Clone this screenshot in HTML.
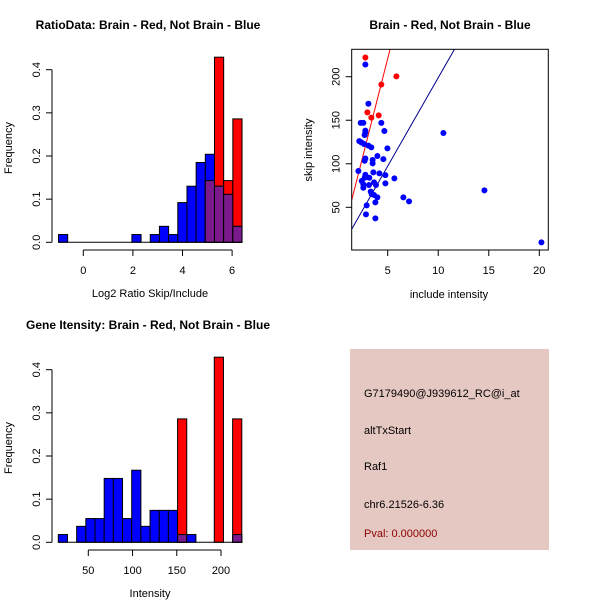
<!DOCTYPE html>
<html><head><meta charset="utf-8"><style>
html,body{margin:0;padding:0;background:#fff}
svg{display:block;font-family:"Liberation Sans",Arial,sans-serif}
</style></head><body>
<svg id="c" width="600" height="600" viewBox="0 0 600 600" xmlns="http://www.w3.org/2000/svg">
<rect x="350" y="349" width="199" height="201" fill="#e6c8c2"/>
<text x="364" y="397" font-size="11" fill="#000">G7179490@J939612_RC@i_at</text>
<text x="364" y="434" font-size="11" fill="#000">altTxStart</text>
<text x="364" y="470" font-size="11" fill="#000">Raf1</text>
<text x="364" y="508" font-size="11" fill="#000">chr6.21526-6.36</text>
<text x="364" y="537" font-size="11" fill="#8b0000">Pval: 0.000000</text>
</svg>
<script>
// ---- Data: ratio histogram ----
const ratioBreakStart = -1.0;
const ratioBinWidth = 0.37;
const ratioBlue = [0.018,0,0,0,0,0,0,0,0.018,0,0.018,0.037,0.018,0.092,0.13,0.185,0.204,0.13,0.111,0.037];
const ratioRed  = [0,0,0,0,0,0,0,0,0,0,0,0,0,0,0,0,0.143,0.429,0.143,0.286];
const ratioXTicks = [0,2,4,6];
const freqTicks = [0.0,0.1,0.2,0.3,0.4];
// ---- Data: intensity histogram ----
const intBreakStart = 16.1;
const intBinWidth = 10.37;
const intBlue = [0.018,0,0.037,0.055,0.055,0.148,0.148,0.055,0.167,0.037,0.074,0.074,0.074,0.018,0.018,0,0,0,0,0.018];
const intRed  = [0,0,0,0,0,0,0,0,0,0,0,0,0,0.286,0,0,0,0.429,0,0.286];
const intXTicks = [50,100,150,200];
// ---- Data: scatter ----
const redX = [2.79,5.86,4.37,2.99,3.38,4.11];
const redY = [222,200.4,191,159,153,155.6];
const blueX = [2.79,3.09,2.33,2.59,4.37,2.79,2.79,2.72,4.67,10.51,2.19,2.39,2.66,3.09,3.38,4.97,3.98,2.79,2.72,3.51,3.51,4.57,2.1,3.58,4.18,2.79,4.77,2.43,3.18,2.72,5.66,3.65,4.77,2.59,2.59,3.15,3.84,3.32,3.42,3.65,3.98,6.55,7.11,3.78,2.92,14.57,2.85,3.78,20.21];
const blueY = [214,169,147,147,147,138,136,133,137.6,135.3,126,124.6,122.7,120.8,118.8,117.7,108.9,106,103.5,104.3,100.5,105.4,91.7,90.1,89,87.4,87,80.2,84,84,83.2,78.6,77.5,76.3,72.5,75.6,75.6,68,65.2,64.1,61.4,61.4,56.8,55.7,52.2,69.4,41.9,37.3,9.7];
const redLine = [1.44,58.3,5.23,231.4];
const blueLine = [1.44,25,11.6,231.4];
const scXTicks = [5,10,15,20];
const scYTicks = [50,100,150,200];

const svg = document.getElementById('c');
const NS = 'http://www.w3.org/2000/svg';
function mk(tag, attrs, parent){
  const e = document.createElementNS(NS, tag);
  for (const k in attrs) e.setAttribute(k, attrs[k]);
  (parent||svg).appendChild(e);
  return e;
}
function txt(x,y,s,size,extra){
  const t = mk('text', Object.assign({x:x,y:y,'font-size':size,'text-anchor':'middle',fill:'#000'}, extra||{}));
  t.textContent = s;
  return t;
}

function histogram(oy, title, xlabel, blue, red, bstart, bw, xTicks, xMap){
  const yMap = v => oy + 242.3 - v*431.5;
  const g = mk('g', {});
  
  
  const t = txt(148, oy+29, title, 12, {'font-weight':'bold'});
  
  
  for (let i=0;i<blue.length;i++){
    const x0 = xMap(bstart + i*bw), x1 = xMap(bstart + (i+1)*bw);
    const b = blue[i], r = red[i];
    if (r>0){
      const rr = mk('rect',{x:x0,y:yMap(r),width:x1-x0,height:yMap(0)-yMap(r),fill:'#ff0000',stroke:'#000','stroke-width':1},g);
      
      
    }
    if (b>0){
      const bb = mk('rect',{x:x0,y:yMap(b),width:x1-x0,height:yMap(0)-yMap(b),fill:'#0000ff',stroke:'#000','stroke-width':1},g);
      
      
    }
    const m = Math.min(b,r);
    if (m>0){
      const pp = mk('rect',{x:x0,y:yMap(m),width:x1-x0,height:yMap(0)-yMap(m),fill:'#7a1a8c',stroke:'#000','stroke-width':1},g);
      
      
    }
  }
  // baseline
  mk('line',{x1:xMap(bstart),x2:xMap(bstart+blue.length*bw),y1:yMap(0),y2:yMap(0),stroke:'#000'},g);
  // y axis
  const ya = mk('g',{},g);
  
  
  mk('line',{x1:52,x2:52,y1:yMap(freqTicks[0]),y2:yMap(freqTicks[freqTicks.length-1]),stroke:'#000'},ya);
  freqTicks.forEach(v=>{
    mk('line',{x1:46,x2:52,y1:yMap(v),y2:yMap(v),stroke:'#000'},ya);
    const l = txt(40, yMap(v), v.toFixed(1), 11, {transform:`rotate(-90 40 ${yMap(v)})`});
    
    
  });
  const yt = txt(12, oy+148, 'Frequency', 11, {transform:`rotate(-90 12 ${oy+148})`});
  
  
  // x axis
  const xa = mk('g',{},g);
  
  
  const ay = oy + 250;
  mk('line',{x1:xMap(xTicks[0]),x2:xMap(xTicks[xTicks.length-1]),y1:ay,y2:ay,stroke:'#000'},xa);
  xTicks.forEach(v=>{
    mk('line',{x1:xMap(v),x2:xMap(v),y1:ay,y2:ay+6,stroke:'#000'},xa);
    const l = txt(xMap(v), ay+24, String(v), 11);
    
    
  });
  const xt = txt(150, oy+297, xlabel, 11);
  
  
}

histogram(0, 'RatioData: Brain - Red, Not Brain - Blue', 'Log2 Ratio Skip/Include',
  ratioBlue, ratioRed, ratioBreakStart, ratioBinWidth, ratioXTicks, v => 83.3 + v*24.8);
histogram(300, 'Gene Itensity: Brain - Red, Not Brain - Blue', 'Intensity',
  intBlue, intRed, intBreakStart, intBinWidth, intXTicks, v => 88.3 + (v-50)*0.8847);

// ---- Scatter ----
(function(){
  const L=351.7,R=548.3,T=49.3,B=250;
  const sx = v => 387.7 + (v-5)*10.107;
  const sy = v => 76.7 - (v-200)*0.8707;
  const g = mk('g',{});
  
  
  const t = txt(450, 29, 'Brain - Red, Not Brain - Blue', 12, {'font-weight':'bold'});
  
  
  const cp = mk('clipPath',{id:'scclip'},g);
  mk('rect',{x:L,y:T,width:R-L,height:B-T},cp);
  const inner = mk('g',{'clip-path':'url(#scclip)'},g);
  const rl = mk('line',{x1:sx(redLine[0]),y1:sy(redLine[1]),x2:sx(redLine[2]),y2:sy(redLine[3]),stroke:'#ff0000'},inner);
  
  
  const bl = mk('line',{x1:sx(blueLine[0]),y1:sy(blueLine[1]),x2:sx(blueLine[2]),y2:sy(blueLine[3]),stroke:'#00008b'},inner);
  
  
  blueX.forEach((x,i)=>{
    const c = mk('circle',{cx:sx(x),cy:sy(blueY[i]),r:3,fill:'#0000ff'},inner);
    
    
  });
  redX.forEach((x,i)=>{
    const c = mk('circle',{cx:sx(x),cy:sy(redY[i]),r:3,fill:'#ff0000'},inner);
    
    
  });
  mk('rect',{x:L,y:T,width:R-L,height:B-T,fill:'none',stroke:'#000'},g);
  scXTicks.forEach(v=>{
    mk('line',{x1:sx(v),x2:sx(v),y1:B,y2:B+6,stroke:'#000'},g);
    const l = txt(sx(v), B+24, String(v), 11);
    
    
  });
  scYTicks.forEach(v=>{
    mk('line',{x1:L-6,x2:L,y1:sy(v),y2:sy(v),stroke:'#000'},g);
    const l = txt(L-12, sy(v), String(v), 11, {transform:`rotate(-90 ${L-12} ${sy(v)})`});
    
    
  });
  const xt = txt(449, 298, 'include intensity', 11);
  
  
  const yt = txt(312, 150, 'skip intensity', 11, {transform:'rotate(-90 312 150)'});
  
  
})();
</script>
</body></html>
